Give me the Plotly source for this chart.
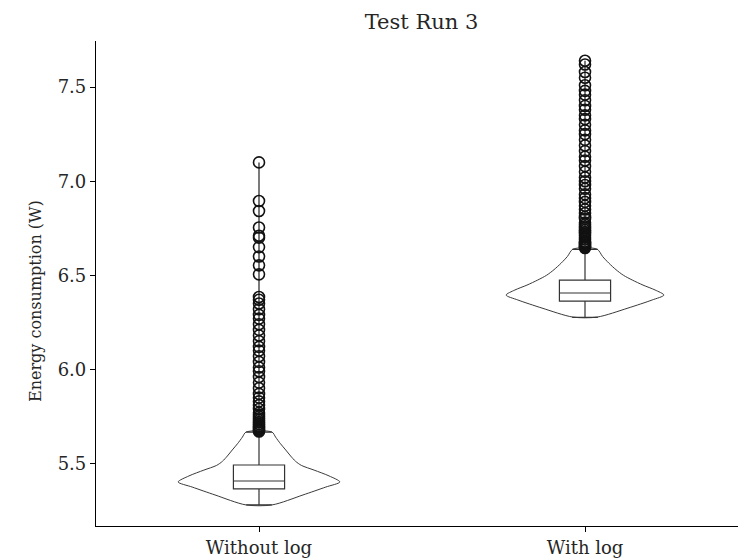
import plotly.graph_objects as go

# ---------------- data ----------------
categories = ["Without log", "With log"]
positions = [1, 2]

# box statistics
q1 = [5.365, 6.363]
median = [5.407, 6.406]
q3 = [5.492, 6.474]
lowerfence = [5.280, 6.277]
upperfence = [5.667, 6.638]

# violin outline: energy levels and half-widths (category units)
violin_levels_without = [5.280, 5.333, 5.375, 5.402, 5.434, 5.465, 5.490, 5.512, 5.540, 5.572, 5.605, 5.640, 5.667]
violin_width_without = [0.040, 0.135, 0.205, 0.248, 0.215, 0.169, 0.130, 0.112, 0.097, 0.082, 0.066, 0.051, 0.040]
violin_levels_with = [6.278, 6.326, 6.369, 6.395, 6.422, 6.448, 6.475, 6.500, 6.530, 6.565, 6.600, 6.639]
violin_width_with = [0.037, 0.132, 0.206, 0.242, 0.215, 0.178, 0.145, 0.118, 0.095, 0.073, 0.054, 0.037]

# outliers
outliers_without = [7.10, 6.895, 6.842, 6.754, 6.71, 6.70, 6.65, 6.60, 6.553, 6.505,
                    6.385, 6.37, 6.35, 6.32, 6.29, 6.27, 6.24, 6.21, 6.18, 6.15, 6.12,
                    6.10, 6.07, 6.04, 6.01, 5.99, 5.96, 5.93, 5.90, 5.87, 5.85, 5.83,
                    5.81, 5.79, 5.77, 5.76, 5.75, 5.74, 5.73, 5.72, 5.71, 5.70, 5.695,
                    5.69, 5.685, 5.68, 5.675, 5.67]
outliers_with = [7.64, 7.62, 7.58, 7.55, 7.51, 7.48, 7.46, 7.43, 7.40, 7.38, 7.35, 7.33,
                 7.30, 7.27, 7.25, 7.22, 7.19, 7.16, 7.13, 7.11, 7.08, 7.05, 7.02, 7.00,
                 6.98, 6.96, 6.93, 6.91, 6.89, 6.87, 6.85, 6.83, 6.81, 6.80, 6.78, 6.77,
                 6.76, 6.75, 6.74, 6.73, 6.72, 6.71, 6.70, 6.69, 6.68, 6.675, 6.67, 6.665,
                 6.66, 6.655, 6.65, 6.645]

y_ticks = [5.5, 6.0, 6.5, 7.0, 7.5]
title_text = "Test Run 3"
y_title = "Energy consumption (W)"

# ---------------- figure ----------------
FONT = "DejaVu Serif"
TXT = "#262626"
fig = go.Figure()

violins = [(violin_levels_without, violin_width_without), (violin_levels_with, violin_width_with)]
outs = [outliers_without, outliers_with]

for i, pos in enumerate(positions):
    lv, wd = violins[i]
    xs = [pos + w for w in wd] + [pos - w for w in reversed(wd)] + [pos + wd[0]]
    ys = list(lv) + list(reversed(lv)) + [lv[0]]
    fig.add_trace(go.Scatter(x=xs, y=ys, mode="lines",
                             line=dict(color="#3a3a3a", width=1, shape="spline", smoothing=0.8),
                             hoverinfo="skip", showlegend=False))

for i, pos in enumerate(positions):
    fig.add_trace(go.Box(x=[pos], q1=[q1[i]], median=[median[i]], q3=[q3[i]],
                         lowerfence=[lowerfence[i]], upperfence=[upperfence[i]],
                         orientation="v",
                         width=0.157, whiskerwidth=0.5, fillcolor="white",
                         line=dict(color="#333333", width=1.2), boxpoints=False,
                         showlegend=False))
    # line from top whisker to the highest outlier
    fig.add_trace(go.Scatter(x=[pos, pos], y=[upperfence[i], max(outs[i])], mode="lines",
                             line=dict(color="#222222", width=1.2), hoverinfo="skip",
                             showlegend=False))
    fig.add_trace(go.Scatter(x=[pos] * len(outs[i]), y=outs[i], mode="markers",
                             marker=dict(symbol="circle-open", size=11, color="#111111",
                                         line=dict(width=1.6, color="#111111")),
                             showlegend=False))

fig.add_annotation(text=y_title, xref="paper", yref="paper",
                   x=(35 - 96) / 642, y=(526 - 301) / 485, xanchor="center", yanchor="middle",
                   textangle=-90, showarrow=False,
                   font=dict(family=FONT, size=16, color=TXT))

fig.update_layout(
    width=738, height=558,
    margin=dict(l=96, r=0, t=41, b=32),
    plot_bgcolor="white", paper_bgcolor="white",
    font=dict(family=FONT, size=18, color=TXT),
    title=dict(text=title_text, x=0.507, xref="paper", xanchor="center",
               y=1 - 22 / 558, yref="container", yanchor="middle",
               font=dict(family=FONT, size=21, color=TXT)),
    xaxis=dict(range=[0.5, 0.5 + 642 / 326], tickmode="array", tickvals=positions,
               ticktext=categories, showgrid=False, zeroline=False,
               showline=True, linecolor="black", linewidth=1.2,
               ticks="outside", ticklen=5, tickcolor="black", tickwidth=1,
               tickfont=dict(family=FONT, size=18, color=TXT)),
    yaxis=dict(range=[5.168, 7.745], tickmode="array", tickvals=y_ticks,
               ticktext=[f"{v:.1f}" for v in y_ticks], showgrid=False, zeroline=False,
               showline=True, linecolor="black", linewidth=1.2,
               ticks="outside", ticklen=5, tickcolor="black", tickwidth=1,
               tickfont=dict(family=FONT, size=18, color=TXT)),
)

fig.write_html("out.html")
